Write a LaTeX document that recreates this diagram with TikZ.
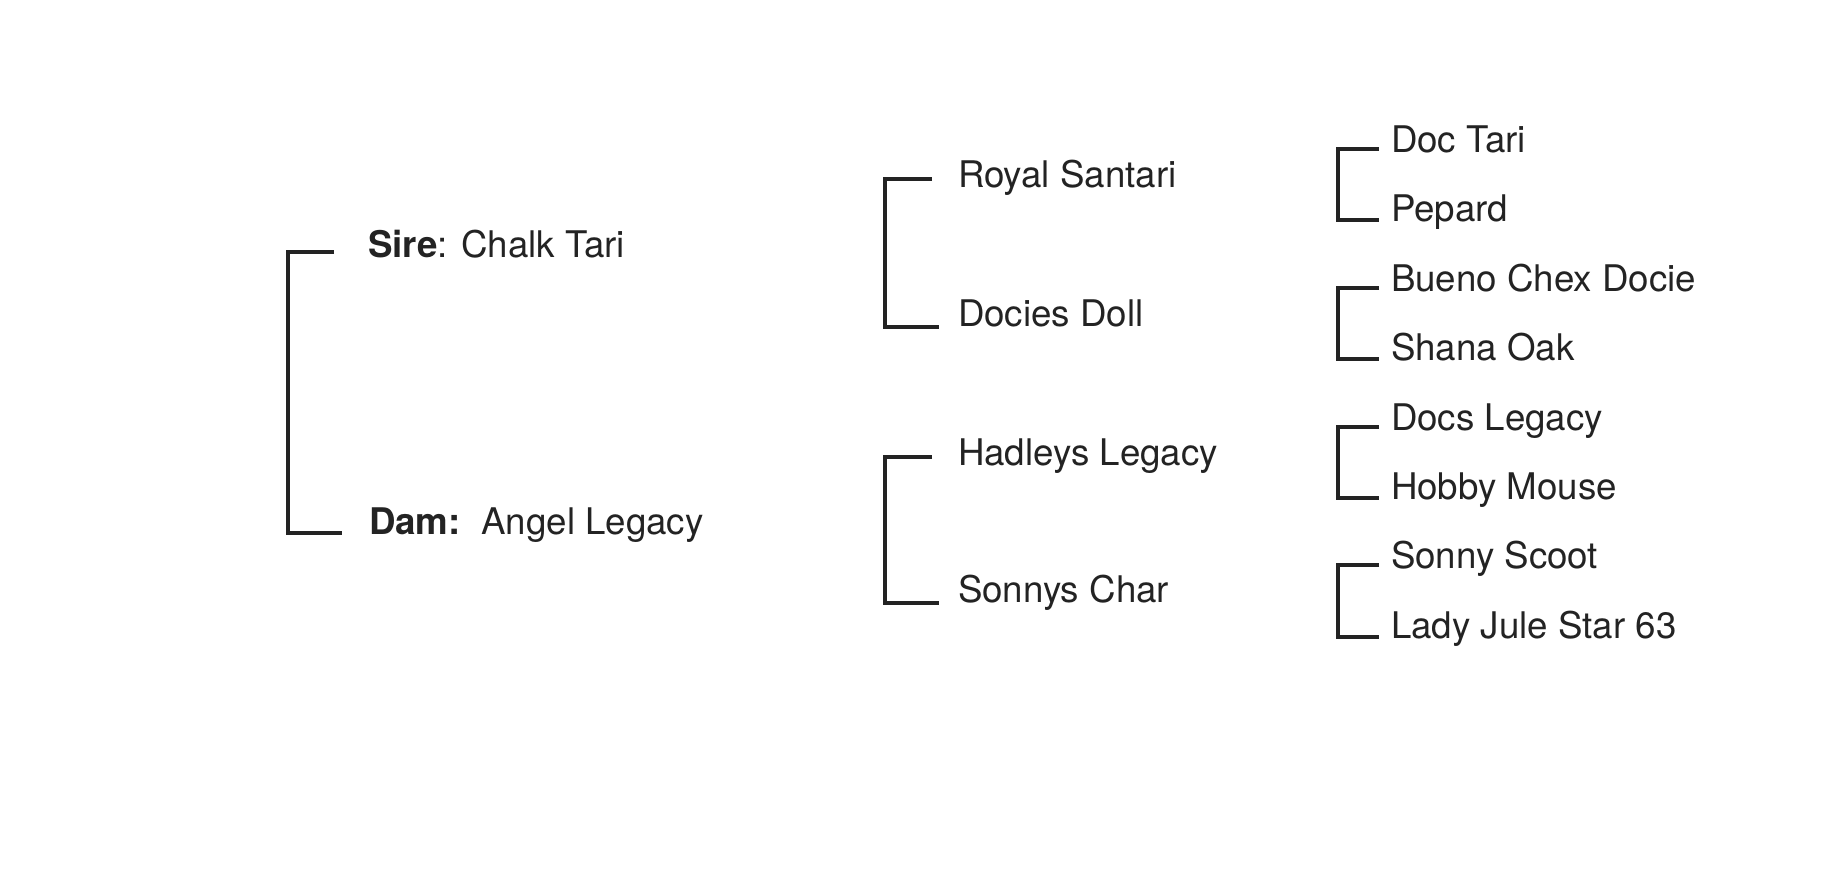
\documentclass[tikz,border=0pt]{standalone}
\usepackage{fontspec}
\setmainfont{TeX Gyre Heros}
\usepackage{xcolor}
\usepackage{tikz}
\usetikzlibrary{calc}
\definecolor{Ink}{HTML}{232323}

\begin{document}
\begin{tikzpicture}[x=1pt,y=-1pt,
  horse/.style={anchor=base west,inner sep=0pt,outer sep=0pt,
    font=\fontsize{36.7}{40}\selectfont,text=Ink},
  bracket/.style={line width=3.3pt,color=Ink}]
\useasboundingbox (0,0) rectangle (1822,886);
% parents
\node[horse] (sire) at (368,257) {\textbf{Sire}: Chalk Tari};
\node[horse] (dam) at (369,534) {\textbf{Dam:}\hspace{7pt} Angel Legacy};
% grandparents
\node[horse] (rs) at (958,187) {Royal Santari};
\node[horse] (dd) at (958,326) {Docies Doll};
\node[horse] (hl) at (958,465) {Hadleys Legacy};
\node[horse] (sc) at (958,602) {Sonnys Char};
% great-grandparents
\node[horse] (dt) at (1391,152) {Doc Tari};
\node[horse] (pe) at (1391,221) {Pepard};
\node[horse] (bc) at (1391,291) {Bueno Chex Docie};
\node[horse] (so) at (1391,360) {Shana Oak};
\node[horse] (dl) at (1391,430) {Docs Legacy};
\node[horse] (hm) at (1391,499) {Hobby Mouse};
\node[horse] (ss) at (1391,568) {Sonny Scoot};
\node[horse] (lj) at (1391,638) {Lady Jule Star 63};
% brackets: top gap / bottom gap / stub / top lift / bottom lift
\foreach \a/\b/\g/\h/\l/\u/\v in {sire/dam/34/27/46/5/1,
    rs/dd/26/19/47/8/-1,hl/sc/26/19/47/8/-1,
    dt/pe/12/12/41/3/1,bc/so/12/12/41/3/1,dl/hm/12/12/41/3/1,ss/lj/12/12/41/3/1}
  \draw[bracket] ([xshift=-\g pt,yshift=\u pt]\a.base west) -- ++(-\l,0)
    |- ([xshift=-\h pt,yshift=\v pt]\b.base west);
\end{tikzpicture}
\end{document}
